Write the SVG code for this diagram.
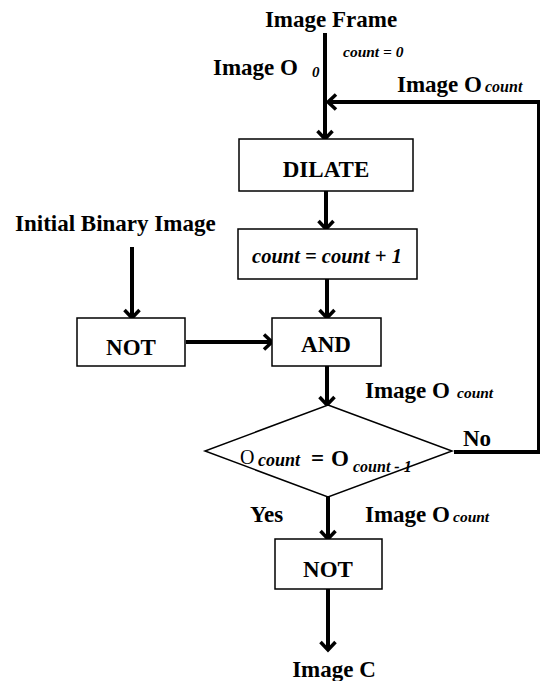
<svg xmlns="http://www.w3.org/2000/svg" width="540" height="681" viewBox="0 0 540 681">
<defs>
<marker id="ah" markerUnits="userSpaceOnUse" markerWidth="24" markerHeight="24" viewBox="-12 -12 24 24" refX="-1" refY="0" orient="auto" overflow="visible">
<path d="M-8,-7.5 L0,0 L-8,7.5" fill="none" stroke="#000" stroke-width="3.5" stroke-linejoin="miter"/>
</marker>
<style>
.box{fill:#fff;stroke:#000;stroke-width:1.5}
.ln{fill:none;stroke:#000;stroke-width:4}
.t{font-family:"Liberation Serif","Times New Roman",serif;font-weight:bold;font-size:23px;fill:#000}
.i{font-family:"Liberation Serif","Times New Roman",serif;font-weight:bold;font-style:italic;fill:#000}
.c{text-anchor:middle}
</style>
</defs>
<rect width="540" height="681" fill="#fff"/>
<g id="connectors">
<line class="ln" x1="325" y1="33" x2="325" y2="138" marker-end="url(#ah)"/>
<polyline class="ln" points="454,452 539,452 539,102 329,102" marker-end="url(#ah)"/>
<line class="ln" x1="326" y1="191" x2="326" y2="228" marker-end="url(#ah)"/>
<line class="ln" x1="327" y1="279" x2="327" y2="317" marker-end="url(#ah)"/>
<line class="ln" x1="132" y1="247" x2="132" y2="317" marker-end="url(#ah)"/>
<line class="ln" x1="186" y1="342" x2="271" y2="342" marker-end="url(#ah)"/>
<line class="ln" x1="327" y1="366" x2="327" y2="404" marker-end="url(#ah)"/>
<line class="ln" x1="328" y1="497" x2="328" y2="538" marker-end="url(#ah)"/>
<line class="ln" x1="328" y1="589" x2="328" y2="649" marker-end="url(#ah)"/>
</g>
<g id="labels">
<text class="t c" x="331" y="27">Image Frame</text>
<text class="i" x="343" y="57" font-size="15.5">count = 0</text>
<text class="t" x="213" y="75">Image O</text>
<text class="i" x="312" y="77" font-size="15">0</text>
<text class="t" x="397" y="92">Image O</text>
<text class="i" x="485" y="92" font-size="16">count</text>
<text class="t" x="15" y="231">Initial Binary Image</text>
<text class="t" x="365" y="398">Image O</text>
<text class="i" x="457" y="398" font-size="15.5">count</text>
<text class="t" x="463" y="446">No</text>
<text class="t" x="250" y="522">Yes</text>
<text class="t" x="365" y="522">Image O</text>
<text class="i" x="453" y="522" font-size="15.5">count</text>
<text class="t c" x="334" y="677">Image C</text>
</g>
<g id="dilate">
<rect class="box" x="239" y="139" width="174" height="52"/>
<text class="t c" x="326" y="177">DILATE</text>
</g>
<g id="increment">
<rect class="box" x="238" y="229" width="179" height="50"/>
<text class="i c" x="327" y="263" font-size="20.5">count = count + 1</text>
</g>
<g id="not1">
<rect class="box" x="77" y="318" width="108" height="48"/>
<text class="t c" x="131" y="355">NOT</text>
</g>
<g id="and">
<rect class="box" x="272" y="318" width="109" height="48"/>
<text class="t c" x="326" y="352">AND</text>
</g>
<g id="decision">
<polygon class="box" points="328,405 452,451 328,497 205,451"/>
<text x="240" y="464" font-family="Liberation Serif, serif" font-size="20" fill="#000">O</text>
<text class="i" x="258" y="466" font-size="18">count</text>
<text class="t" x="311" y="466">=</text>
<text class="t" x="331" y="466">O</text>
<text class="i" x="353" y="472" font-size="16">count - 1</text>
</g>
<g id="not2">
<rect class="box" x="275" y="539" width="107" height="50"/>
<text class="t c" x="328" y="577">NOT</text>
</g>
</svg>
